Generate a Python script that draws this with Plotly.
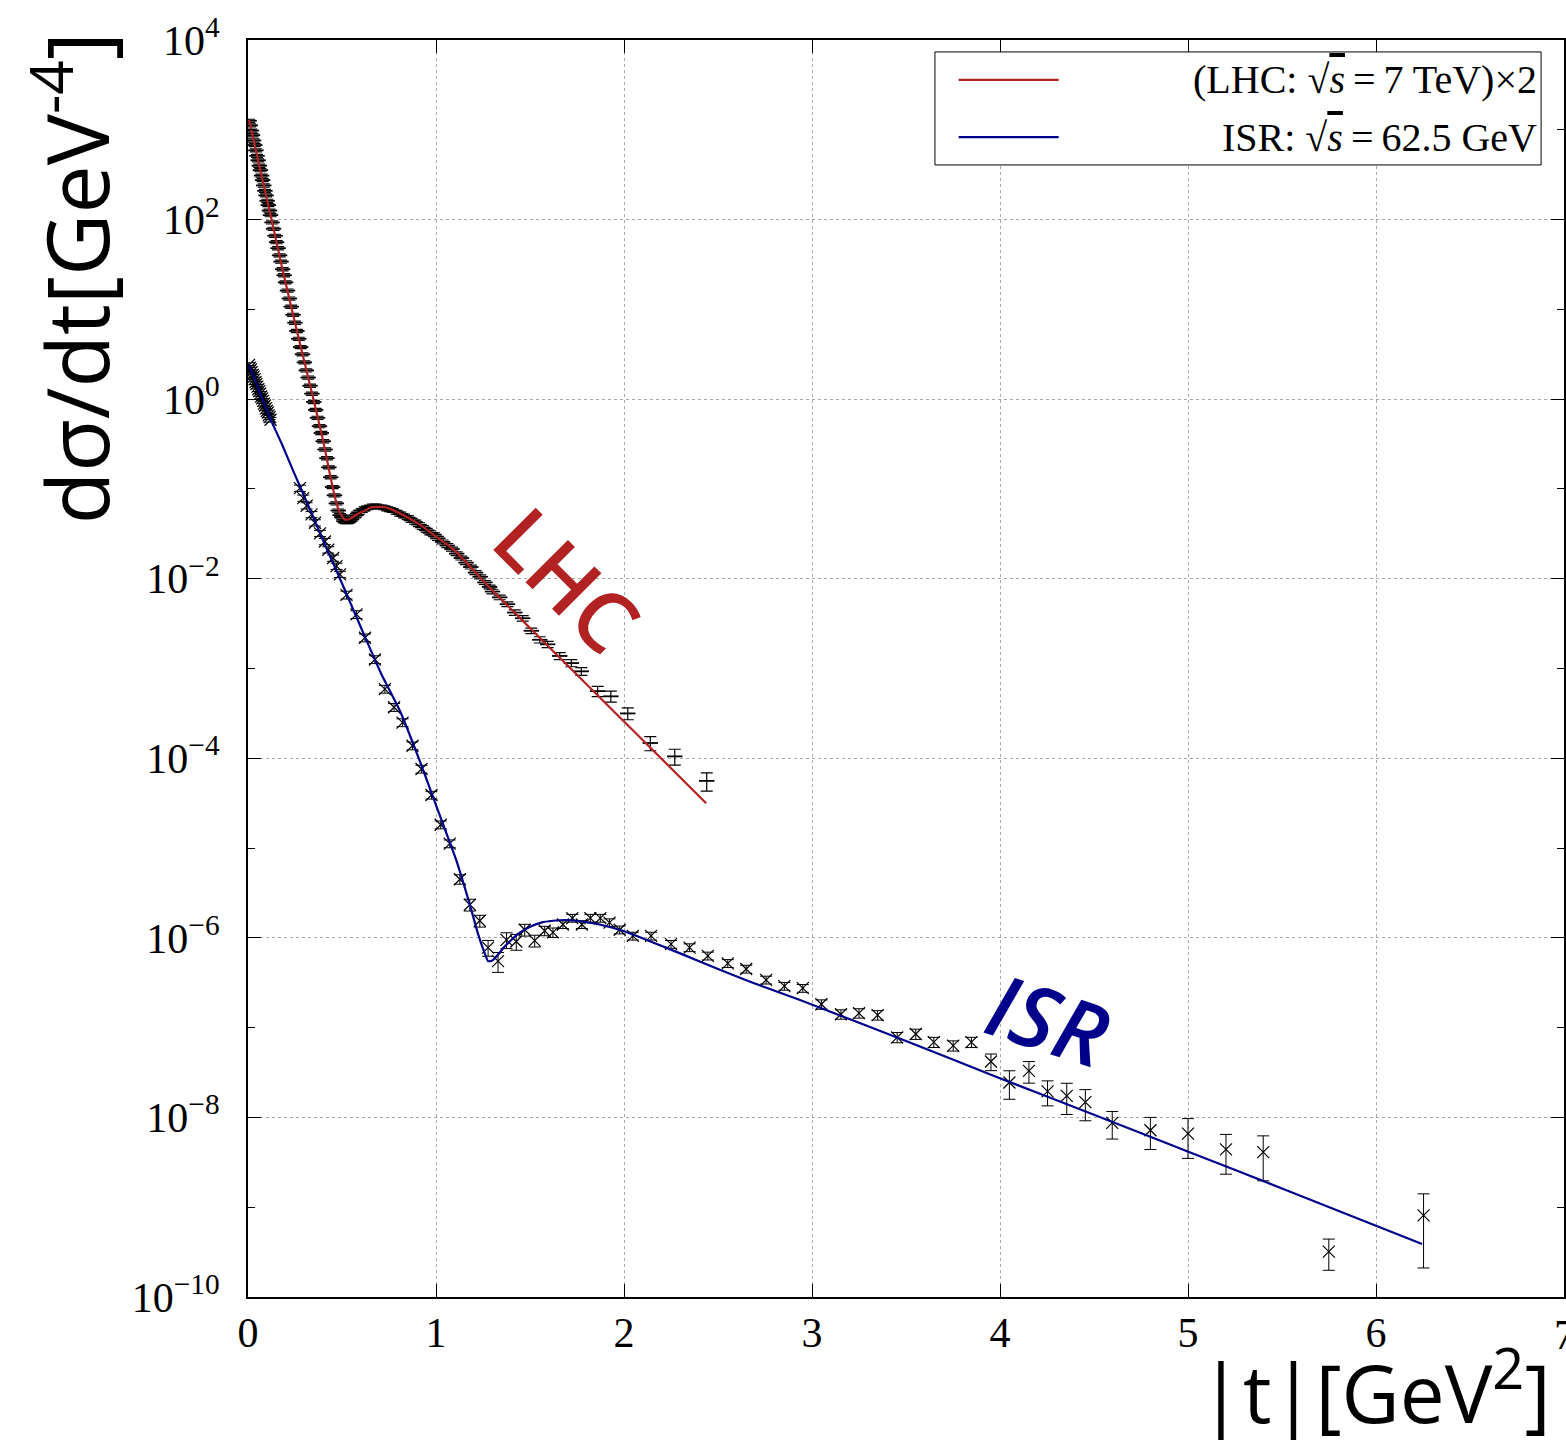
import plotly.graph_objects as go

# ---------------- data ----------------
# LHC (TOTEM 7 TeV, x2) measured points
t_lhc = [0.006,0.012,0.018,0.024,0.030,0.036,0.042,0.048,0.054,0.060,0.066,0.072,0.078,0.084,0.090,0.096,0.102,0.108,0.114,0.120,
         0.128,0.136,0.144,0.152,0.160,0.168,0.176,0.184,0.192,0.200,
         0.210,0.220,0.230,0.240,0.250,0.260,0.270,0.280,0.290,0.300,0.310,0.320,0.330,0.340,0.350,0.360,0.370,0.380,0.390,0.400,
         0.410,0.420,0.430,0.440,0.450,0.460,0.470,0.480,0.490,0.500,0.510,0.520,0.530,0.540,0.550,0.560,
         0.575,0.590,0.605,0.620,0.635,0.650,0.665,0.680,0.695,0.710,0.725,0.740,0.755,0.770,
         0.790,0.810,0.830,0.850,0.870,0.890,0.910,0.930,0.950,0.970,0.990,
         1.010,1.035,1.060,1.085,1.110,1.135,1.160,1.185,1.210,1.235,1.260,1.285,
         1.300,1.339,1.380,1.419,1.461,1.507,1.552,1.594,1.658,1.720,1.773,1.860,1.930,2.020,2.140,2.270,2.440]
y_lhc = [1260,1120,980,870,760,676,590,513,457,398,355,309,275,240,209,186,162,145,126,112,
         93,79,66,56,48,40,34,28,24,20,
         16.2,13.2,10.7,8.7,7.1,5.75,4.7,3.8,3.16,2.57,2.09,1.74,1.41,1.15,0.93,0.76,0.62,0.50,0.42,0.34,
         0.275,0.22,0.174,0.135,0.105,0.085,0.069,0.0575,0.051,0.048,0.0437,0.0427,0.0427,0.0437,0.0457,0.048,
         0.051,0.055,0.0575,0.060,0.0617,0.063,0.0646,0.0646,0.063,0.063,0.0617,0.060,0.0589,0.0575,
         0.055,0.0525,0.050,0.048,0.0447,0.0427,0.040,0.0372,0.0347,0.0324,0.0309,
         0.0282,0.0257,0.0234,0.0214,0.019,0.017,0.0151,0.0135,0.0117,0.0105,0.0091,0.0081,
         0.0072,0.0062,0.0052,0.0042,0.00363,0.00263,0.00209,0.00186,0.00138,0.00115,0.00093,0.00056,0.00049,0.000316,0.000148,0.000105,0.000056]
rel_err_lhc = [0.04]*66 + [0.05]*37 + [0.06,0.06,0.06,0.07,0.07,0.07,0.08,0.08,0.09,0.09,0.10,0.13,0.14,0.15,0.18,0.20,0.23]

# ISR 62.5 GeV measured points
t_isr = [0.005,0.010,0.015,0.020,0.025,0.030,0.035,0.040,0.045,0.050,0.055,0.060,0.065,0.070,0.075,0.080,0.085,0.090,0.095,0.100,0.105,0.110,0.115,0.120,
         0.276,0.294,0.312,0.338,0.356,0.383,0.409,0.427,0.453,0.471,0.489,
         0.524,0.577,0.622,0.675,0.728,0.777,0.822,0.875,0.923,0.976,1.025,1.073,
         1.127,1.180,1.233,1.277,1.330,1.375,1.427,1.472,1.525,1.578,1.622,1.675,1.725,1.776,1.821,1.874,1.923,1.977,
         2.047,2.144,2.250,2.349,2.446,2.552,2.650,2.756,2.853,2.951,
         3.050,3.154,3.250,3.349,3.453,3.552,3.648,3.751,3.848,
         3.952,4.050,4.154,4.253,4.355,4.454,4.597,4.800,5.000,5.202,5.400,5.749,6.253]
y_isr = [2.40,2.24,2.14,2.00,1.86,1.78,1.66,1.55,1.48,1.38,1.29,1.23,1.15,1.07,1.02,0.955,0.89,0.85,0.79,0.74,0.71,0.66,0.63,0.59,
         0.102,0.079,0.065,0.052,0.042,0.032,0.026,0.021,0.017,0.0138,0.0112,
         0.0066,0.0040,0.0022,0.00126,5.9e-4,3.7e-4,2.5e-4,1.38e-4,7.6e-5,3.9e-5,1.82e-5,1.12e-5,
         4.5e-6,2.34e-6,1.55e-6,7.8e-7,5.5e-7,9.5e-7,9.1e-7,1.23e-6,9.3e-7,1.2e-6,1.15e-6,1.41e-6,1.66e-6,1.41e-6,1.66e-6,1.66e-6,1.48e-6,1.23e-6,
         1.05e-6,1.05e-6,8.5e-7,7.8e-7,6.3e-7,5.2e-7,4.5e-7,3.4e-7,2.9e-7,2.75e-7,
         1.82e-7,1.41e-7,1.45e-7,1.38e-7,7.8e-8,8.5e-8,6.9e-8,6.3e-8,6.9e-8,
         4.2e-8,2.45e-8,3.3e-8,1.95e-8,1.74e-8,1.48e-8,8.7e-9,7.2e-9,6.6e-9,4.4e-9,4.1e-9,3.2e-10,8.1e-10]
rel_err_isr = [0.06]*24 + [0.08]*11 + [0.10]*12 + \
    [0.12,0.15,0.15,0.20,0.25,0.20,0.20,0.15,0.15,0.12,0.12,0.10,0.10,0.10,0.10,0.10,0.10,0.10] + \
    [0.10]*10 + [0.12,0.12,0.12,0.12,0.13,0.13,0.13,0.13,0.13] + \
    [0.21,0.35,0.27,0.31,0.38,0.38,0.34,0.39,0.47,0.47,0.52,0.38,0.74]

# model curves
t_lhc_fit = [0.005,0.011,0.060,0.126,0.180,0.223,0.270,0.320,0.360,0.400,0.436,0.460,0.480,0.498,0.515,0.535,0.560,0.590,
             0.613,0.650,0.684,0.720,0.755,0.825,0.914,1.000,1.090,1.197,1.250,1.500,1.750,2.000,2.437]
y_lhc_fit = [1290,1150,398,98,30,12.3,4.7,1.74,0.78,0.34,0.145,0.085,0.060,0.050,0.0457,0.0457,0.049,0.0537,
             0.0562,0.0617,0.063,0.063,0.060,0.0513,0.040,0.0295,0.0214,0.0126,0.0095,0.00282,8.5e-4,2.57e-4,3.16e-5]

t_isr_fit = [0.005,0.060,0.117,0.180,0.241,0.320,0.409,0.506,0.631,0.709,0.808,0.914,1.000,1.060,1.109,1.180,1.224,1.255,1.277,
             1.300,1.330,1.360,1.392,1.440,1.498,1.560,1.622,1.690,1.746,1.810,1.870,1.994,2.154,2.331,2.500,2.685,2.933,
             3.500,3.972,4.500,5.012,5.500,6.245]
y_isr_fit = [2.40,1.23,0.617,0.316,0.158,0.066,0.024,0.0083,0.00204,8.7e-4,3.39e-4,9.3e-5,3.0e-5,1.38e-5,7.2e-6,2.34e-6,1.10e-6,7.1e-7,5.5e-7,
             5.6e-7,6.5e-7,7.8e-7,9.1e-7,1.12e-6,1.32e-6,1.48e-6,1.55e-6,1.58e-6,1.55e-6,1.48e-6,1.41e-6,1.20e-6,8.9e-7,6.3e-7,4.5e-7,3.16e-7,2.04e-7,
             7.1e-8,2.88e-8,1.07e-8,4.07e-9,1.62e-9,3.9e-10]

x_ticks = [0, 1, 2, 3, 4, 5, 6, 7]
y_major = [1e-10, 1e-8, 1e-6, 1e-4, 1e-2, 1e0, 1e2, 1e4]
y_major_text = ["10<sup>−10</sup>", "10<sup>−8</sup>", "10<sup>−6</sup>", "10<sup>−4</sup>",
                "10<sup>−2</sup>", "10<sup>0</sup>", "10<sup>2</sup>", "10<sup>4</sup>"]
y_minor = [1e-9, 1e-7, 1e-5, 1e-3, 1e-1, 1e1, 1e3]

legend_labels = ["(LHC: √<span style='text-decoration:overline'><i>s</i></span>\u2009=\u20097 TeV)×2",
                 "ISR: √<span style='text-decoration:overline'><i>s</i></span>\u2009=\u200962.5 GeV"]

RED = "#b22222"
BLUE = "#00008b"
SERIF = "Liberation Serif"
SANS = "Open Sans"

# ---------------- figure ----------------
fig = go.Figure()

fig.add_trace(go.Scatter(
    x=t_lhc, y=y_lhc, mode="markers",
    marker=dict(symbol="line-ew-open", size=11, color="black", line=dict(width=1.8, color="black")),
    error_y=dict(type="data", array=[v * r for v, r in zip(y_lhc, rel_err_lhc)], color="black", thickness=1.2, width=6),
    showlegend=False))

fig.add_trace(go.Scatter(
    x=t_isr, y=y_isr, mode="markers",
    marker=dict(symbol="x-thin-open", size=12, color="black", line=dict(width=1.2, color="black")),
    error_y=dict(type="data", array=[v * r for v, r in zip(y_isr, rel_err_isr)], color="black", thickness=1, width=6),
    showlegend=False))

fig.add_trace(go.Scatter(x=t_lhc_fit, y=y_lhc_fit, mode="lines", line=dict(color=RED, width=2.2, shape="spline", smoothing=0.6),
                         showlegend=False))
fig.add_trace(go.Scatter(x=t_isr_fit, y=y_isr_fit, mode="lines", line=dict(color=BLUE, width=2.2, shape="spline", smoothing=0.5),
                         showlegend=False))

axis_common = dict(showline=True, linecolor="black", linewidth=2, mirror="ticks",
                   ticks="inside", tickcolor="black", tickwidth=1.2,
                   showgrid=True, gridcolor="#a8a8a8", griddash="dot", gridwidth=1,
                   zeroline=False, tickfont=dict(family=SERIF, size=42, color="black"))

fig.update_xaxes(range=[0, 7], tickmode="array", tickvals=x_ticks, ticklen=13,
                 ticklabelstandoff=-2, **axis_common)
fig.update_yaxes(type="log", range=[-10, 4], tickmode="array", tickvals=y_major, ticktext=y_major_text,
                 ticklen=13, ticklabelstandoff=18,
                 minor=dict(tickvals=y_minor, ticks="inside", ticklen=7, tickcolor="black", tickwidth=1.2, showgrid=False),
                 **axis_common)

# legend (custom box to match sample length / right-aligned labels)
shapes = [
    dict(type="rect", xref="paper", yref="paper", x0=0.522, x1=0.9826, y0=0.9006, y1=0.9905,
         line=dict(color="black", width=1), fillcolor="white", layer="above"),
    dict(type="line", xref="paper", yref="paper", x0=0.540, x1=0.616, y0=0.9682, y1=0.9682,
         line=dict(color=RED, width=2.2), layer="above"),
    dict(type="line", xref="paper", yref="paper", x0=0.540, x1=0.616, y0=0.9228, y1=0.9228,
         line=dict(color=BLUE, width=2.2), layer="above"),
]
annotations = [
    dict(xref="paper", yref="paper", x=0.981, y=0.9682, text=legend_labels[0], showarrow=False,
         xanchor="right", yanchor="middle", font=dict(family=SERIF, size=40, color="black")),
    dict(xref="paper", yref="paper", x=0.981, y=0.9228, text=legend_labels[1], showarrow=False,
         xanchor="right", yanchor="middle", font=dict(family=SERIF, size=40, color="black")),
    # last x tick label, partly beyond the right edge as in the original
    dict(x=7, xref="x", yref="paper", y=-0.0107, text="7", showarrow=False, xanchor="center", yanchor="top",
         font=dict(family=SERIF, size=42, color="black")),
    # curve labels
    dict(x=1.70, y=-2.0, xref="x", yref="y", text="LHC", showarrow=False, textangle=45,
         font=dict(family=SANS, size=84, color=RED, weight=600)),
    dict(x=4.26, y=-6.90, xref="x", yref="y", text="ISR", showarrow=False, textangle=18,
         font=dict(family=SANS, size=86, color=BLUE, weight=600, style="italic")),
    # axis titles
    dict(xref="paper", yref="paper", x=-0.1335, y=0.8107, text="dσ/dt[GeV<sup>-4</sup>]", showarrow=False,
         textangle=-90, xanchor="center", yanchor="middle", font=dict(family=SANS, size=86, color="black")),
    dict(xref="paper", yref="paper", x=0.8566, y=-0.024, text="|t|[GeV<sup>2</sup>]", showarrow=False,
         xanchor="center", yanchor="top", font=dict(family=SANS, size=80, color="black")),
]

fig.update_layout(width=1566, height=1440, margin=dict(l=248, r=0, t=40, b=143),
                  paper_bgcolor="white", plot_bgcolor="white", showlegend=False,
                  shapes=shapes, annotations=annotations)

fig.write_html("out.html")
